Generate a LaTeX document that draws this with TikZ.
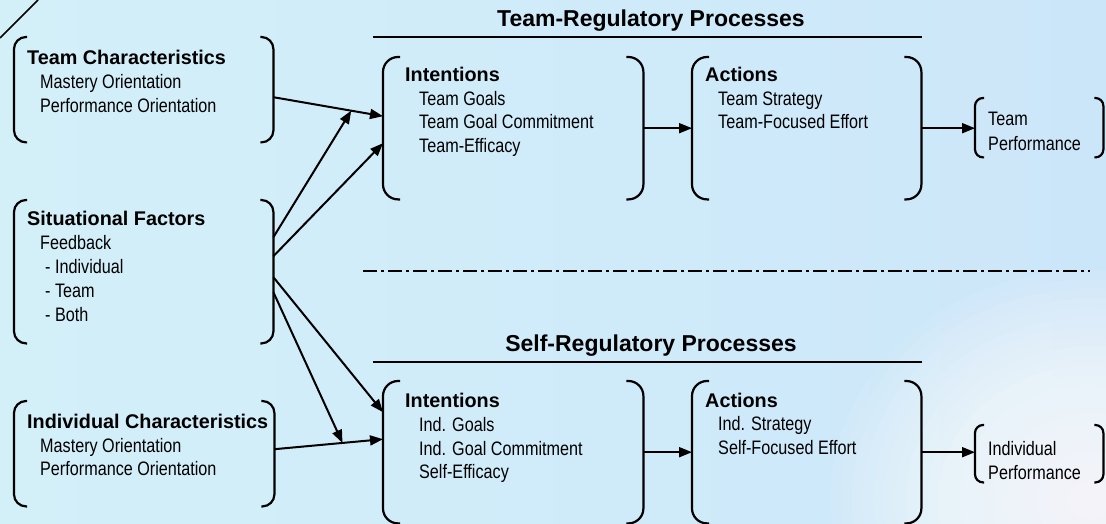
\documentclass[tikz,border=0pt]{standalone}
\usepackage{fontspec}
\setmainfont{Liberation Sans}
\newfontfamily\nar{Liberation Sans}[FakeStretch=0.83]
\usetikzlibrary{arrows.meta,calc}
\definecolor{bgleft}{RGB}{211,240,249}
\definecolor{bgright}{RGB}{204,230,249}
\newcommand\bracketbox[3]{%
  \draw[brk,rounded corners=#3] ($(#1.north west)+(#2,0)$) -- (#1.north west) -- (#1.south west) -- ($(#1.south west)+(#2,0)$);
  \draw[brk,rounded corners=#3] ($(#1.north east)+(-#2,0)$) -- (#1.north east) -- (#1.south east) -- ($(#1.south east)+(-#2,0)$);}
\begin{document}
\begin{tikzpicture}[x=1pt,y=-1pt,
  box/.style={rectangle,inner sep=0,anchor=north west},
  brk/.style={line width=2.2pt},
  hd/.style={anchor=base west,inner sep=0,font=\fontsize{19.8}{24}\selectfont\bfseries},
  itm/.style={anchor=base west,inner sep=0,font=\nar\fontsize{19.5}{24}\selectfont},
  ttl/.style={anchor=base,inner sep=0,font=\fontsize{23}{28}\selectfont\bfseries},
  arr/.style={line width=2pt,-{Triangle[length=13pt,width=10pt]}}]
\useasboundingbox (0,0) rectangle (1106,524);
% background
\shade[left color=bgleft,right color=bgright] (0,0) rectangle (1106,524);
\foreach \k in {1,...,24}{
  \fill[white,opacity=0.08] (1090,500) ellipse ({260*\k/24} and {230*\k/24});
  \fill[white,opacity=0.02] (660,10) ellipse ({220*\k/24} and {60*\k/24});
  \fill[white,opacity=0.018] (560,250) ellipse ({170*\k/24} and {90*\k/24});
  \fill[white,opacity=0.015] (600,480) ellipse ({160*\k/24} and {60*\k/24});
}
% stray corner line
\draw[line width=1.5pt] (0,38) -- (38,0);
% boxes
\node[box,minimum width=259pt,minimum height=105pt] (tc) at (14,37) {};
\node[box,minimum width=259pt,minimum height=143pt] (sf) at (14,200) {};
\node[box,minimum width=260pt,minimum height=105pt] (ic) at (14,401) {};
\node[box,minimum width=260pt,minimum height=142pt] (ti) at (383,57) {};
\node[box,minimum width=229pt,minimum height=142pt] (ta) at (692,57) {};
\node[box,minimum width=128pt,minimum height=59pt] (tp) at (975,98) {};
\node[box,minimum width=260pt,minimum height=142pt] (bi) at (383,381) {};
\node[box,minimum width=229pt,minimum height=142pt] (ba) at (692,381) {};
\node[box,minimum width=128pt,minimum height=57pt] (ip) at (975,425) {};
\bracketbox{tc}{13}{12}
\bracketbox{sf}{13}{12}
\bracketbox{ic}{13}{12}
\bracketbox{ti}{17}{15}
\bracketbox{ta}{17}{15}
\bracketbox{tp}{9}{8}
\bracketbox{bi}{17}{15}
\bracketbox{ba}{17}{15}
\bracketbox{ip}{9}{8}
% titles
\node[ttl] (ttr) at (651,27) {Team-Regulatory Processes};
\node[ttl] (tsr) at (651,351) {Self-Regulatory Processes};
\coordinate (u1a) at (373,37); \coordinate (u1b) at (922,37);
\coordinate (u2a) at (373,362); \coordinate (u2b) at (922,362);
\draw[line width=1.5pt] (u1a) -- (u1b);
\draw[line width=1.5pt] (u2a) -- (u2b);
\coordinate (dda) at (363,271); \coordinate (ddb) at (1090,271);
\draw[line width=1.5pt,dash pattern=on 14pt off 4pt on 3pt off 4pt] (dda) -- (ddb);
% texts
\node[hd] (tc0) at (27,65) {Team Characteristics};
\node[itm] (tc1) at (40,89) {Mastery Orientation};
\node[itm] (tc2) at (40,113) {Performance Orientation};
\node[hd] (sf0) at (27,225) {Situational Factors};
\node[itm] (sf1) at (40,249) {Feedback};
\node[itm] (sf2) at (45,273) {- Individual};
\node[itm] (sf3) at (45,297) {- Team};
\node[itm] (sf4) at (45,321) {- Both};
\node[hd] (ic0) at (27,428) {Individual Characteristics};
\node[itm] (ic1) at (40,452) {Mastery Orientation};
\node[itm] (ic2) at (40,475) {Performance Orientation};
\node[hd] (ti0) at (405,82) {Intentions};
\node[itm] (ti1) at (419,106) {Team Goals};
\node[itm] (ti2) at (419,129) {Team Goal Commitment};
\node[itm] (ti3) at (419,153) {Team-Efficacy};
\node[hd] (ta0) at (705,82) {Actions};
\node[itm] (ta1) at (718,106) {Team Strategy};
\node[itm] (ta2) at (718,129) {Team-Focused Effort};
\node[itm] (tp1) at (988,126) {Team};
\node[itm] (tp2) at (988,150) {Performance};
\node[hd] (bi0) at (405,407) {Intentions};
\node[itm] (bi1) at (419,431) {Ind. Goals};
\node[itm] (bi2) at (419,455) {Ind. Goal Commitment};
\node[itm] (bi3) at (419,478) {Self-Efficacy};
\node[hd] (ba0) at (705,407) {Actions};
\node[itm] (ba1) at (718,430) {Ind. Strategy};
\node[itm] (ba2) at (718,454) {Self-Focused Effort};
\node[itm] (ip1) at (988,455) {Individual};
\node[itm] (ip2) at (988,479) {Performance};
% connectors
\coordinate (a1s) at ($(tc.east)+(0,7.5)$);
\coordinate (a1e) at ($(ti.west)+(0,-12)$);
\coordinate (a2s) at ($(ic.east)+(0,-4.5)$);
\coordinate (a2e) at ($(bi.west)+(0,-13)$);
\coordinate (m1) at ($(a1s)!0.71!(a1e)$);
\coordinate (m2) at ($(a2s)!0.627!(a2e)$);
\draw[arr] (a1s) -- (a1e);
\draw[arr] (a2s) -- (a2e);
\draw[arr] ($(sf.east)+(0,-34.5)$) -- (m1);
\draw[arr] ($(sf.east)+(0,-15.5)$) -- ($(ti.west)+(0,15)$);
\draw[arr] ($(sf.east)+(0,5.5)$) -- ($(bi.west)+(0,-40)$);
\draw[arr] ($(sf.east)+(0,20.5)$) -- (m2);
\draw[arr] (ti.east) -- (ta.west);
\draw[arr] (ta.east) -- (ta.east -| tp.west);
\draw[arr] (bi.east) -- (ba.west);
\draw[arr] (ba.east) -- (ba.east -| ip.west);
\end{tikzpicture}
\end{document}
